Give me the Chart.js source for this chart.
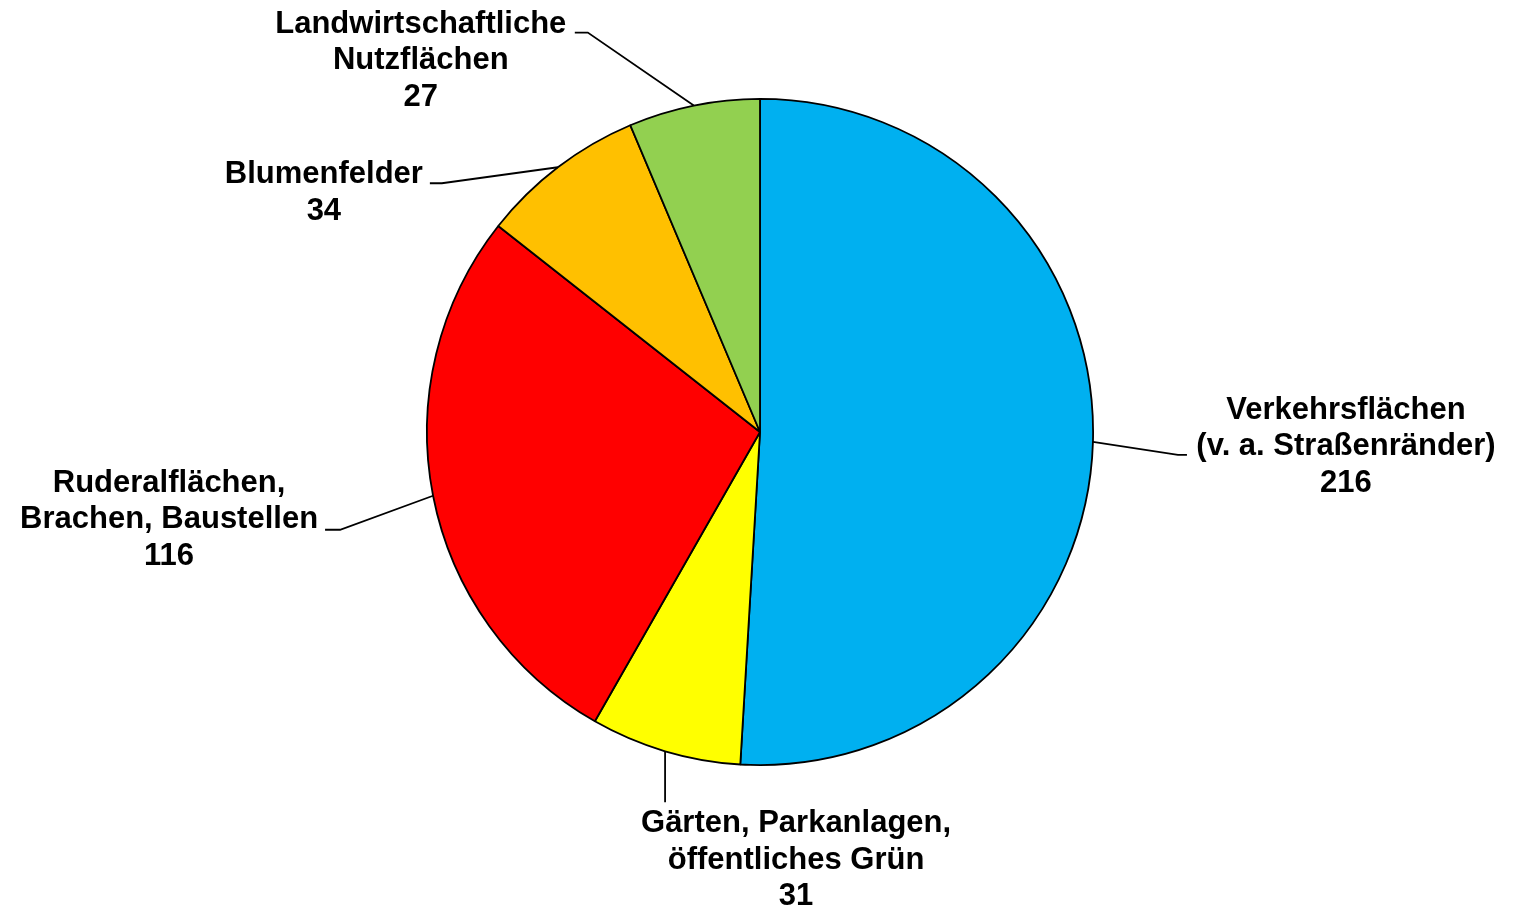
<!DOCTYPE html>
<html>
<head>
<meta charset="utf-8">
<script src="https://cdn.jsdelivr.net/npm/chart.js@4"></script>
<style>
html,body{margin:0;padding:0;background:#fff;}
#wrap{width:1513px;height:910px;position:relative;}
</style>
</head>
<body>
<div id="wrap"><canvas id="c" width="1513" height="910"></canvas></div>
<script>
// ---- data ----
const categories = [
  ["Verkehrsflächen", "(v. a. Straßenränder)"],
  ["Gärten, Parkanlagen,", "öffentliches Grün"],
  ["Ruderalflächen,", "Brachen, Baustellen"],
  ["Blumenfelder"],
  ["Landwirtschaftliche", "Nutzflächen"]
];
const values = [216, 31, 116, 34, 27];
const colors = ["#00B0F0", "#FFFF00", "#FF0000", "#FFC000", "#92D050"];

// ---- label layout (offsets relative to slice mid-point on the rim) ----
const labelLayout = [
  { elbow: [85, 13],   tail: 9,   text: [253, -23] },
  { elbow: [0, 51],    tail: 0,   text: [131, 81] },
  { elbow: [-93, 34],  tail: -15, text: [-264, -4] },
  { elbow: [-116, 16], tail: -12, text: [-234, 16] },
  { elbow: [-106, -73],tail: -13, text: [-273, -73] }
];
const FONT = 'bold 31px "Liberation Sans", Arial, sans-serif';
const LINE_H = 36.5;

const labelPlugin = {
  id: 'pieLabels',
  afterDatasetsDraw(chart) {
    const ctx = chart.ctx;
    const meta = chart.getDatasetMeta(0);
    meta.data.forEach((arc, i) => {
      const p = arc.getProps(['x','y','startAngle','endAngle','outerRadius'], true);
      const mid = (p.startAngle + p.endAngle) / 2;
      const ax = p.x + Math.cos(mid) * p.outerRadius;
      const ay = p.y + Math.sin(mid) * p.outerRadius;
      const L = labelLayout[i];
      const ex = ax + L.elbow[0], ey = ay + L.elbow[1];
      ctx.save();
      ctx.strokeStyle = '#000';
      ctx.lineWidth = 1.8;
      ctx.beginPath();
      ctx.moveTo(ax, ay);
      ctx.lineTo(ex, ey);
      if (L.tail) ctx.lineTo(ex + L.tail, ey);
      ctx.stroke();
      ctx.fillStyle = '#000';
      ctx.font = FONT;
      ctx.textAlign = 'center';
      ctx.textBaseline = 'alphabetic';
      const lines = chart.data.labels[i].concat([String(values[i])]);
      const tx = ax + L.text[0];
      let ty = ay + L.text[1];
      lines.forEach((ln, k) => ctx.fillText(ln, tx, ty + k * LINE_H));
      ctx.restore();
    });
  }
};

new Chart(document.getElementById('c'), {
  type: 'pie',
  data: {
    labels: categories,
    datasets: [{
      data: values,
      backgroundColor: colors,
      borderColor: '#000',
      borderWidth: 1.8,
      hoverOffset: 0
    }]
  },
  options: {
    responsive: false,
    animation: false,
    events: [],
    layout: { padding: { top: 98, bottom: 144, left: 7, right: 0 } },
    plugins: {
      legend: { display: false },
      tooltip: { enabled: false }
    }
  },
  plugins: [labelPlugin, {
    id: 'bg',
    beforeDraw(chart) {
      const c = chart.ctx;
      c.save(); c.fillStyle = '#fff'; c.fillRect(0, 0, chart.width, chart.height); c.restore();
    }
  }]
});
</script>
</body>
</html>
